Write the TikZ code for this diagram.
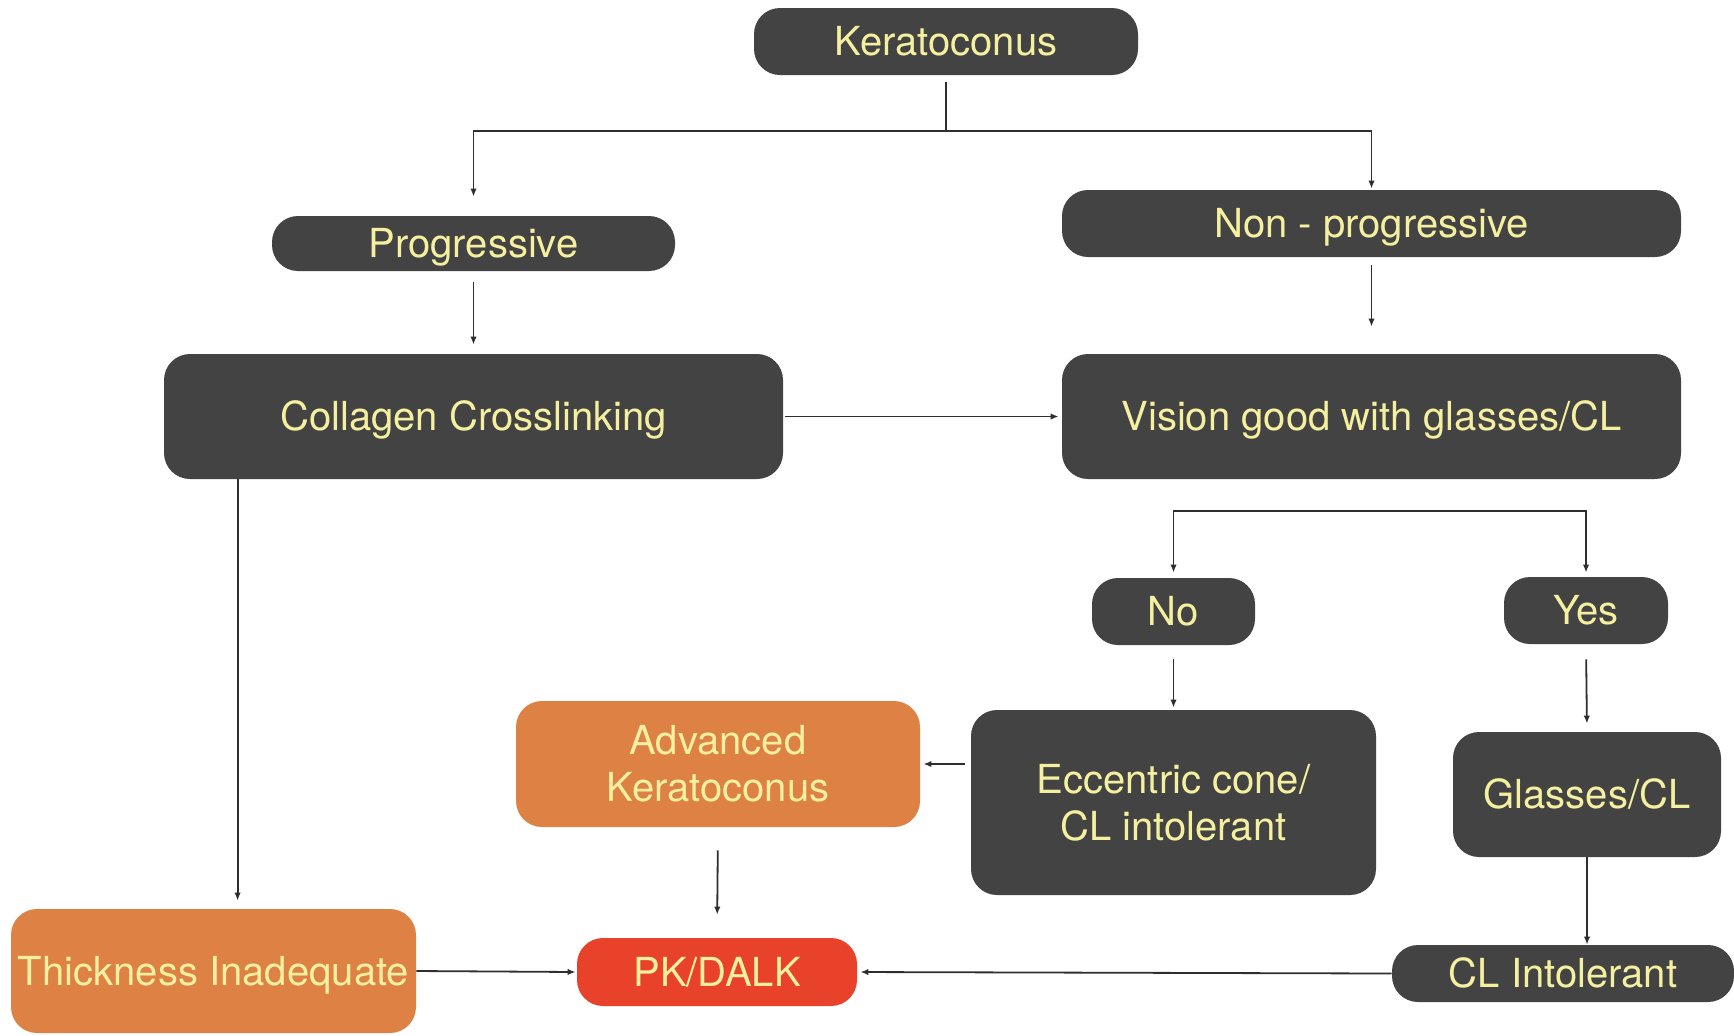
\documentclass[tikz,border=0pt]{standalone}
\usepackage{fontspec}
\setmainfont{TeX Gyre Heros}
\usetikzlibrary{arrows.meta}
\definecolor{boxdark}{HTML}{434343}
\definecolor{txtyel}{HTML}{F5F0A0}
\definecolor{boxorange}{HTML}{DD8244}
\definecolor{boxred}{HTML}{E8432A}
\definecolor{linec}{HTML}{2E2E2E}
\begin{document}
\begin{tikzpicture}[x=0.5pt,y=-0.5pt,
  base/.style={rounded corners=13pt, inner sep=0pt, text=txtyel, align=center,
    text height=14.4pt, text depth=0pt,
    font=\fontsize{20}{23.5}\selectfont},
  mline/.style={text height=, text depth=},
  dbox/.style={base, fill=boxdark},
  obox/.style={base, fill=boxorange},
  rbox/.style={base, fill=boxred},
  sz/.style 2 args={minimum width=#1*0.5pt, minimum height=#2*0.5pt},
  conn/.style={draw=linec, line width=0.9pt},
  arr/.style={conn, -{Latex[length=4pt,width=3.2pt]}}
]
\useasboundingbox (0,0) rectangle (1734,1035);

\node[dbox, sz={384}{67}] (ker) at (946,41.5) {Keratoconus};
\node[dbox, sz={403}{55}] (prog) at (473.5,243.5) {Progressive};
\node[dbox, sz={619}{67}] (nonprog) at (1371.5,223.5) {Non - progressive};
\node[dbox, sz={619}{125}] (coll) at (473.5,416.5) {Collagen Crosslinking};
\node[dbox, sz={619}{125}] (vis) at (1371.5,416.5) {Vision good with glasses/CL};
\node[dbox, sz={163}{67}] (no) at (1173.5,611.5) {No};
\node[dbox, sz={164}{67}] (yes) at (1586,610.5) {Yes};
\node[dbox, mline, sz={405}{185}] (ecc) at (1173.5,802.5) {Eccentric cone/\\CL intolerant};
\node[dbox, sz={268}{125}] (glasses) at (1587,794.5) {Glasses/CL};
\node[dbox, sz={342}{57}] (clint) at (1563,973.5) {CL Intolerant};
\node[obox, mline, sz={404}{126}] (adv) at (718,764) {Advanced\\Keratoconus};
\node[rbox, sz={280}{68}] (pk) at (717,972) {PK/DALK};
\node[obox, sz={405}{124}] (thick) at (213.5,971) {Thickness Inadequate};

% top split
\coordinate (j1) at (946,131);
\draw[conn, shorten <=3.5pt] (ker.south) -- (j1);
\draw[arr, shorten >=9.5pt] (j1) -| (prog.north);
\draw[arr, shorten >=0.5pt] (j1) -| (nonprog.north);

\draw[arr, shorten <=5.5pt, shorten >=4.5pt] (prog.south) -- (coll.north);
\draw[arr, shorten <=4pt, shorten >=13.5pt] (nonprog.south) -- (vis.north);
\draw[arr, shorten <=1pt, shorten >=1.5pt] (coll.east) -- (vis.west);

% vision split
\coordinate (j2) at (1380,511);
\draw[arr, shorten >=2.5pt] (j2) -| (no.north);
\draw[arr, shorten >=2pt] (j2) -| (yes.north);

\draw[arr, shorten <=7pt, shorten >=1pt] (no.south) -- (ecc.north);
\draw[arr, shorten <=7.5pt, shorten >=4pt] (yes.south) -- (glasses.north);
\draw[arr] (glasses.south) -- (glasses.south |- clint.north);
\draw[arr, shorten >=1.5pt] (clint.west) -- (pk.east);

\draw[arr, shorten <=3pt, shorten >=1.5pt] (ecc.west |- adv.east) -- (adv.east);
\draw[arr, shorten <=11.5pt, shorten >=11.5pt] (adv.south) -- (pk.north);

\draw[arr, shorten >=4pt] ([xshift=37pt]coll.south west) -- ([xshift=37pt]coll.south west |- thick.north);
\draw[arr, shorten >=0.5pt] (thick.east) -- (pk.west);
\end{tikzpicture}
\end{document}
